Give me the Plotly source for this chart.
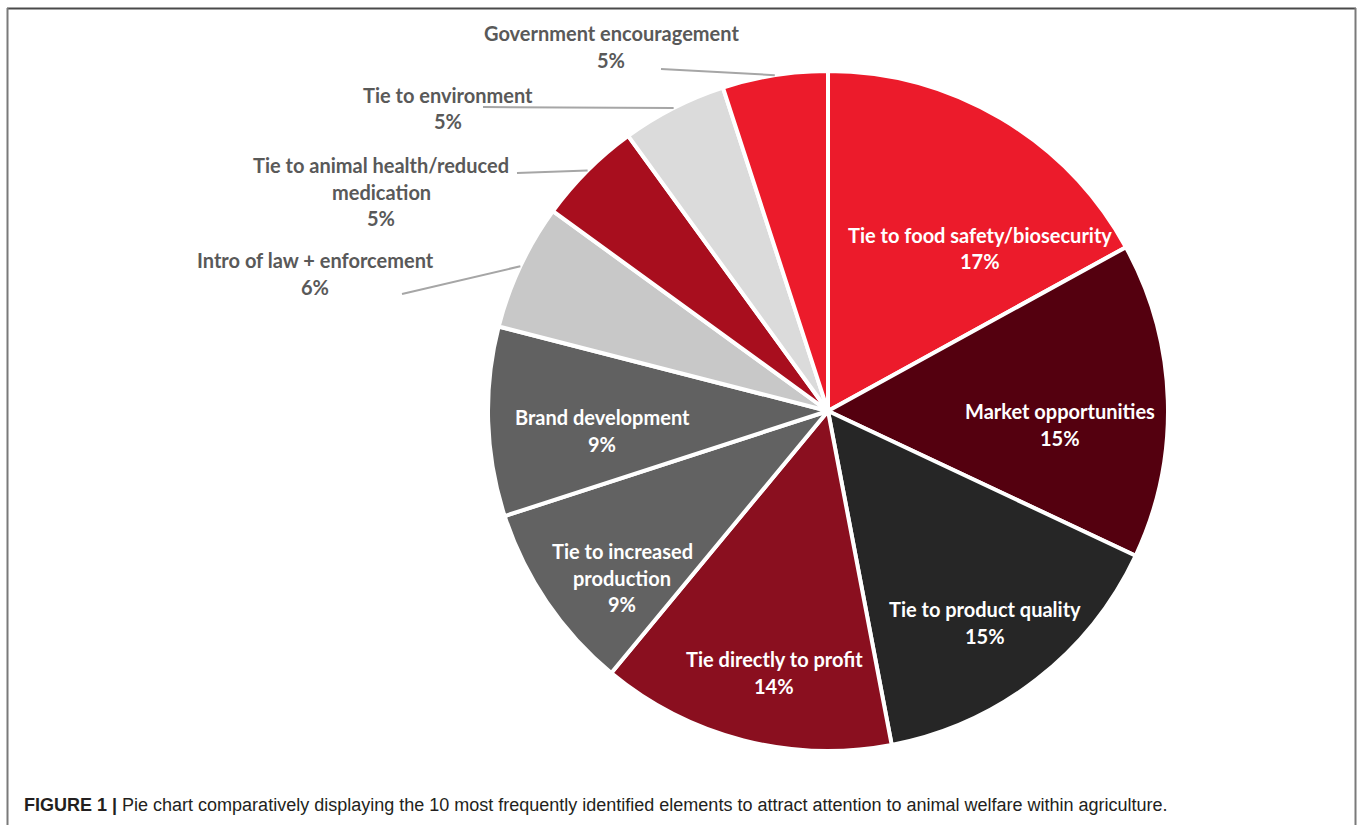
import math
import plotly.graph_objects as go

# ---- data ----
categories = [
    "Tie to food safety/biosecurity",
    "Market opportunities",
    "Tie to product quality",
    "Tie directly to profit",
    "Tie to increased production",
    "Brand development",
    "Intro of law + enforcement",
    "Tie to animal health/reduced medication",
    "Tie to environment",
    "Government encouragement",
]
values = [17, 15, 15, 14, 9, 9, 6, 5, 5, 5]
colors = ["#EC1B2B", "#54000F", "#262626", "#8A0F1F", "#626262",
          "#616161", "#C8C8C8", "#A80E1E", "#DBDBDB", "#EC1B2B"]
caption_bold = "FIGURE 1 |"
caption_text = ("Pie chart comparatively displaying the 10 most frequently identified "
                "elements to attract attention to animal welfare within agriculture.")

# ---- layout helpers ----
W, H = 1358, 825
CX, CY, R = 828, 411, 340          # pie centre / radius in pixels

def px(x):
    return x / W

def py(y):
    return 1 - y / H

# how labels are wrapped
wraps = {
    "Tie to increased production": ["Tie to increased", "production"],
    "Tie to animal health/reduced medication": ["Tie to animal health/reduced", "medication"],
}
# label layout: (centre x px, first line y px, inside?, leader start (x,y) or None)
label_layout = [
    (980, 235, True, None),
    (1060, 411, True, None),
    (985, 609, True, None),
    (774, 659, True, None),
    (622, 551, True, None),
    (602, 417, True, None),
    (315, 260, False, (402, 294)),
    (381, 165, False, (517, 173)),
    (448, 95, False, (483, 107)),
    (611, 33, False, (661, 69)),
]
LINE_GAP = 26.5

fig = go.Figure(go.Pie(
    labels=categories,
    values=values,
    sort=False,
    direction="clockwise",
    rotation=0,
    textinfo="none",
    hoverinfo="label+percent",
    marker=dict(colors=colors, line=dict(color="white", width=4)),
    domain=dict(x=[px(CX - R), px(CX + R)], y=[py(CY + R), py(CY - R)]),
    showlegend=False,
))

total = sum(values)
annotations = []
shapes = []
cum = 0
for cat, v, (lx, ly, inside, lead) in zip(categories, values, label_layout):
    pct = f"{round(v / total * 100)}%"
    lines = wraps.get(cat, [cat]) + [pct]
    color = "white" if inside else "#595959"
    for i, t in enumerate(lines):
        annotations.append(dict(
            x=px(lx), y=py(ly + i * LINE_GAP), xref="paper", yref="paper",
            text=t, showarrow=False, xanchor="center", yanchor="middle",
            font=dict(family="Lato", size=20, color=color, weight="bold"),
        ))
    mid = (cum + v / 2) / total * 2 * math.pi
    cum += v
    if lead is not None:
        ex = CX + R * math.sin(mid)
        ey = CY - R * math.cos(mid)
        shapes.append(dict(type="line", xref="paper", yref="paper",
                           x0=px(lead[0]), y0=py(lead[1]), x1=px(ex), y1=py(ey),
                           line=dict(color="#A6A6A6", width=2)))

# frame lines (top, left, right)
shapes += [
    dict(type="line", xref="paper", yref="paper", x0=px(7), y0=py(8.5), x1=px(1356), y1=py(8.5),
         line=dict(color="#4A4A4A", width=2)),
    dict(type="line", xref="paper", yref="paper", x0=px(7.5), y0=py(8), x1=px(7.5), y1=py(830),
         line=dict(color="#7A7A7A", width=2)),
    dict(type="line", xref="paper", yref="paper", x0=px(1355.5), y0=py(8), x1=px(1355.5), y1=py(830),
         line=dict(color="#7A7A7A", width=2)),
]

annotations.append(dict(
    x=px(22), y=py(805), xref="paper", yref="paper", xanchor="left", yanchor="middle",
    showarrow=False,
    text=f"<b>{caption_bold}</b> {caption_text}",
    font=dict(family="Liberation Sans, Arial", size=18, color="#231F20"),
))

fig.update_layout(
    width=W, height=H,
    margin=dict(l=0, r=0, t=0, b=0),
    paper_bgcolor="white", plot_bgcolor="white",
    annotations=annotations, shapes=shapes,
)
fig.write_html("out.html")
